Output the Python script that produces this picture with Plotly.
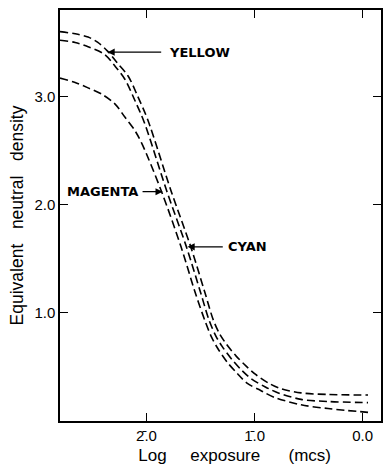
import plotly.graph_objects as go

# Log exposure (mcs) values and equivalent neutral density for each dye layer
yellow_x = [-2.80, -2.66, -2.54, -2.45, -2.36, -2.27, -2.17, -2.08, -1.99, -1.77, -1.59, -1.46, -1.38, -1.32, -1.26, -1.17, -1.08, -0.99, -0.87, -0.76, -0.57, -0.32, 0.05]
yellow_y = [3.60, 3.58, 3.55, 3.50, 3.42, 3.31, 3.19, 3.00, 2.79, 2.12, 1.61, 1.19, 0.93, 0.80, 0.71, 0.60, 0.51, 0.43, 0.35, 0.30, 0.26, 0.245, 0.24]

cyan_x = [-2.80, -2.66, -2.54, -2.39, -2.29, -2.20, -2.11, -2.02, -1.81, -1.63, -1.50, -1.42, -1.36, -1.30, -1.21, -1.12, -1.03, -0.90, -0.78, -0.57, -0.32, 0.05]
cyan_y = [3.52, 3.50, 3.46, 3.39, 3.28, 3.16, 2.97, 2.76, 2.12, 1.61, 1.19, 0.93, 0.79, 0.69, 0.57, 0.47, 0.39, 0.315, 0.26, 0.20, 0.18, 0.17]

magenta_x = [-2.80, -2.66, -2.54, -2.41, -2.29, -2.20, -2.11, -2.04, -1.86, -1.68, -1.55, -1.46, -1.40, -1.34, -1.25, -1.16, -1.07, -0.94, -0.82, -0.57, -0.32, 0.05]
magenta_y = [3.17, 3.13, 3.08, 3.02, 2.93, 2.81, 2.69, 2.56, 2.12, 1.61, 1.19, 0.93, 0.78, 0.67, 0.54, 0.44, 0.35, 0.28, 0.22, 0.15, 0.115, 0.08]

x_ticks = [-2, -1, 0]
x_tick_text = ["2\u0304.0", "1\u0304.0", "0.0"]
y_ticks = [1, 2, 3]
y_tick_text = ["1.0", "2.0", "3.0"]

FONT = "Liberation Sans"
LABEL_FONT = "DejaVu Sans"

fig = go.Figure()
for name, xs, ys in [("YELLOW", yellow_x, yellow_y), ("CYAN", cyan_x, cyan_y), ("MAGENTA", magenta_x, magenta_y)]:
    fig.add_trace(go.Scatter(x=xs, y=ys, mode="lines", name=name,
                             line=dict(color="black", width=1.6, dash="8px,4px", shape="spline", smoothing=0.9),
                             showlegend=False, hoverinfo="skip"))

# label arrows (tip, tail) and texts
labels = [
    dict(text="YELLOW", tip=(-2.36, 3.41), tail=(-1.85, 3.41), anchor="left", tx=-1.81),
    dict(text="MAGENTA", tip=(-1.85, 2.12), tail=(-2.05, 2.12), anchor="right", tx=-2.06),
    dict(text="CYAN", tip=(-1.62, 1.61), tail=(-1.28, 1.61), anchor="left", tx=-1.26),
]
for lb in labels:
    fig.add_annotation(x=lb["tip"][0], y=lb["tip"][1], ax=lb["tail"][0], ay=lb["tail"][1],
                       axref="x", ayref="y", xref="x", yref="y", text="", showarrow=True,
                       arrowhead=2, arrowsize=1.1, arrowwidth=1.3, arrowcolor="black", standoff=0)
    fig.add_annotation(x=lb["tx"], y=lb["tip"][1], xref="x", yref="y", text="<b>" + lb["text"] + "</b>",
                       showarrow=False, xanchor=lb["anchor"], yanchor="middle",
                       font=dict(family=LABEL_FONT, size=13, color="black"))

axis_common = dict(showline=True, linecolor="black", linewidth=1.5, mirror="ticks",
                   ticks="inside", ticklen=8, tickwidth=1.3, tickcolor="black",
                   showgrid=False, zeroline=False,
                   tickfont=dict(family=FONT, size=15, color="black"))

fig.update_xaxes(range=[-2.8, 0.17], tickvals=x_ticks, ticktext=x_tick_text,
                 title=dict(text="&nbsp;&nbsp;&nbsp;&nbsp;&nbsp;&nbsp;Log&nbsp;&nbsp;&nbsp;&nbsp;&nbsp;exposure&nbsp;&nbsp;&nbsp;&nbsp;&nbsp;&nbsp;(mcs)",
                            font=dict(family=FONT, size=17, color="black"), standoff=6),
                 **axis_common)
fig.update_yaxes(range=[0, 3.8], tickvals=y_ticks, ticktext=y_tick_text,
                 title=dict(text="Equivalent&nbsp;&nbsp;&nbsp;neutral&nbsp;&nbsp;&nbsp;density",
                            font=dict(family=FONT, size=17.5, color="black"), standoff=6),
                 **axis_common)

fig.update_layout(width=388, height=472, margin=dict(l=60, r=5, t=10, b=51),
                  paper_bgcolor="white", plot_bgcolor="white")

fig.write_html("out.html")
